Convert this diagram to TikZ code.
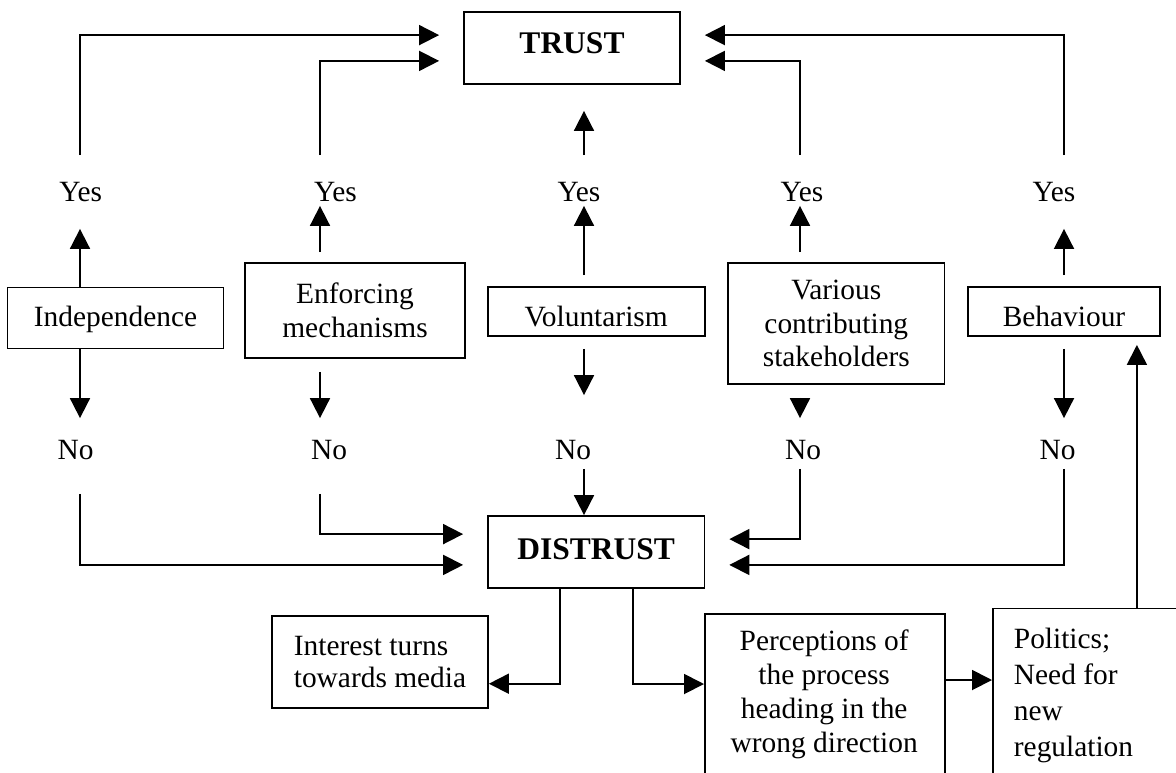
\documentclass[tikz,border=0pt]{standalone}
\usepackage{fontspec}
\setmainfont{Liberation Serif}
\usetikzlibrary{arrows.meta,calc}
\begin{document}
\begin{tikzpicture}[x=0.5pt,y=-0.5pt,
  line width=0.9pt,
  cbox/.style={draw, rectangle, inner sep=2pt, align=center,
    font=\fontsize{14.7}{17}\selectfont},
  titlebox/.style={font=\fontsize{15.75}{18}\bfseries\selectfont, text height=10.5pt},
  lbl/.style={inner sep=0pt, anchor=base, font=\fontsize{14.7}{17}\selectfont,
    text height=10pt, text depth=0pt},
  arr/.style={-{Triangle[length=10pt,width=10pt]}}
]
\useasboundingbox (0,0) rectangle (1176,772);
\clip (0,0) rectangle (1176,772);

% column positions of the yes/no branches
\coordinate (col1) at (80,0);
\coordinate (col2) at (320,0);
\coordinate (col3) at (584,0);
\coordinate (col4) at (800,0);
\coordinate (col5) at (1064,0);

% outcomes
\node[cbox, titlebox, text depth=5.5pt, minimum width=108pt, minimum height=36pt] (trust) at (572,48) {TRUST};
\node[cbox, titlebox, text depth=3.5pt, minimum width=108.2pt, minimum height=36pt] (dis) at (596.2,552) {DISTRUST};

% factors
\node[cbox, text height=10pt, text depth=2pt, minimum width=108pt, minimum height=30.5pt] (ind) at (115.5,318) {Independence};
\node[cbox, font=\fontsize{14.7}{17.15}\selectfont, minimum width=110pt, minimum height=47.5pt] (enf) at (355,310.5) {Enforcing\\mechanisms};
\node[cbox, text height=14.5pt, text depth=0pt, minimum width=108.5pt, minimum height=24.5pt] (vol) at (596.1,311.5) {Voluntarism};
\node[cbox, font=\fontsize{14.7}{16.85}\selectfont, minimum width=108.25pt, minimum height=60.5pt] (var) at (836.3,323.5) {Various\\contributing\\stakeholders};
\node[cbox, text height=14.5pt, text depth=0pt, minimum width=96pt, minimum height=24.5pt] (beh) at (1064,311.5) {Behaviour};

% consequences of distrust
\node[cbox, align=left, font=\fontsize{14.7}{16.3}\selectfont, minimum width=108pt, minimum height=46pt] (int) at (380,662) {Interest turns\\towards media};
\node[cbox, anchor=north west, minimum width=120.15pt, minimum height=100pt] (perc) at (704,612.7) {};
\node[inner sep=0pt, anchor=north, align=center, font=\fontsize{14.7}{17}\selectfont] (perctext) at (824.2,628.5) {Perceptions of\\the process\\heading in the\\wrong direction};
\node[cbox, anchor=north west, minimum width=125pt, minimum height=100pt] (pol) at (992,607.5) {};
\node[inner sep=0pt, anchor=north west, align=left, font=\fontsize{14.7}{18}\selectfont] (poltext) at (1013,627) {Politics;\\Need for\\new\\regulation};

% yes / no labels
\node[lbl] (yes1) at (80.7,201) {Yes};
\node[lbl] (yes2) at (335.5,201) {Yes};
\node[lbl] (yes3) at (579,201) {Yes};
\node[lbl] (yes4) at (802,201) {Yes};
\node[lbl] (yes5) at (1054,201) {Yes};
\node[lbl] (no1) at (75.5,459) {No};
\node[lbl] (no2) at (329,459) {No};
\node[lbl] (no3) at (573,459) {No};
\node[lbl] (no4) at (803,459) {No};
\node[lbl] (no5) at (1057.5,459) {No};

% yes -> trust
\draw[arr] ($(yes1.north -| col1)+(0,-25)$) |- ($(trust.north west)+(-24,24)$);
\draw[arr] ($(yes2.north -| col2)+(0,-25)$) |- ($(trust.south west)+(-24,-24)$);
\draw[arr] ($(yes3.north -| col3)+(0,-25)$) -- ($(trust.south -| col3)+(0,26)$);
\draw[arr] ($(yes4.north -| col4)+(0,-25)$) |- ($(trust.south east)+(24,-24)$);
\draw[arr] ($(yes5.north -| col5)+(0,-25)$) |- ($(trust.north east)+(24,24)$);

% factor -> yes
\draw[arr] (ind.north -| col1) -- ($(yes1.south -| col1)+(0,27)$);
\draw[arr] ($(enf.north -| col2)+(0,-10)$) -- ($(yes2.south -| col2)+(0,4)$);
\draw[arr] ($(vol.north -| col3)+(0,-11)$) -- ($(yes3.south -| col3)+(0,4)$);
\draw[arr] ($(var.north -| col4)+(0,-10)$) -- ($(yes4.south -| col4)+(0,4)$);
\draw[arr] ($(beh.north -| col5)+(0,-11)$) -- ($(yes5.south -| col5)+(0,27)$);

% factor -> no
\draw[arr] (ind.south -| col1) -- ($(no1.north -| col1)+(0,-20)$);
\draw[arr] ($(enf.south -| col2)+(0,13)$) -- ($(no2.north -| col2)+(0,-20)$);
\draw[arr] ($(vol.south -| col3)+(0,12)$) -- ($(no3.north -| col3)+(0,-43)$);
\draw[arr] ($(var.south -| col4)+(0,13)$) -- ($(no4.north -| col4)+(0,-20)$);
\draw[arr] ($(beh.south -| col5)+(0,12)$) -- ($(no5.north -| col5)+(0,-20)$);

% no -> distrust
\draw[arr] ($(no1.south -| col1)+(0,34)$) |- ($(dis.south west)+(-24,-24)$);
\draw[arr] ($(no2.south -| col2)+(0,34)$) |- ($(dis.north west)+(-24,19)$);
\draw[arr] ($(no3.south -| col3)+(0,9)$) -- (dis.north -| col3);
\draw[arr] ($(no4.south -| col4)+(0,9)$) |- ($(dis.north east)+(24,24)$);
\draw[arr] ($(no5.south -| col5)+(0,9)$) |- ($(dis.south east)+(24,-24)$);

% distrust -> consequences
\draw[arr] ($(dis.south)+(-36,0)$) |- ($(int.east)+(0,21.7)$);
\draw[arr] ($(dis.south)+(36.5,0)$) |- ($(perc.north west)+(0,71.3)$);
\draw[arr] ($(perc.north east)+(0,67.3)$) -- ($(pol.north west)+(0,72.5)$);
\draw[arr] ($(beh.south east |- pol.north)+(-24,0)$) -- ($(beh.south east)+(-24,8)$);
\end{tikzpicture}
\end{document}
